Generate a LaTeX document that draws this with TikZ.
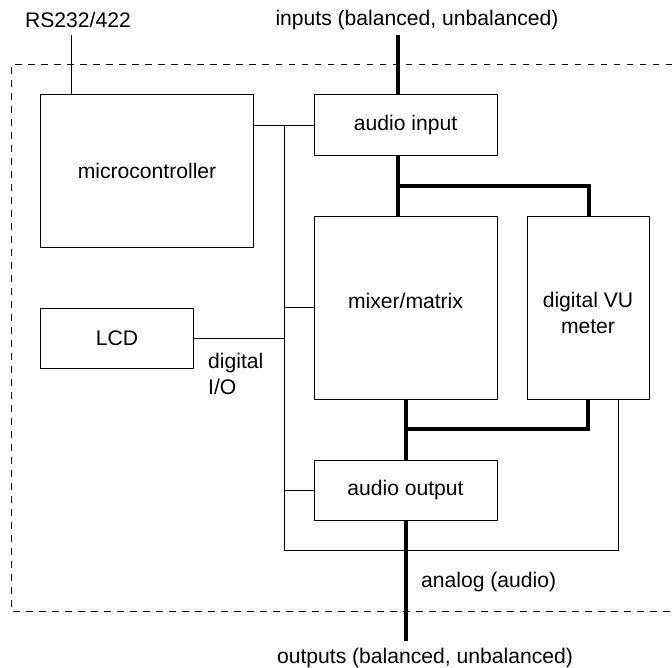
\documentclass[tikz,border=0pt]{standalone}
\usepackage{fontspec}
\setmainfont{Liberation Sans}
\begin{document}
\begin{tikzpicture}[x=1bp,y=-1bp,
  every node/.style={font=\fontsize{21.2}{26}\selectfont},
  blk/.style={draw,line width=1bp,inner sep=0pt,align=center},
  lbl/.style={inner sep=0pt},
  thin/.style={line width=1bp},
  bus/.style={line width=4bp},
  frame/.style={line width=1bp,dash pattern=on 6.5bp off 6.5bp}]
\useasboundingbox (0,0) rectangle (672,668);
% frame
\draw[frame] (672,65) -- (11,65) -- (11,611) -- (672,611);
% blocks
\node[blk,minimum width=212bp,minimum height=152bp] (mc) at (147,171) {microcontroller};
\node[blk,minimum width=183bp,minimum height=60bp] (ain) at (405.5,125) {audio input};
\node[blk,minimum width=183bp,minimum height=183bp] (mix) at (405.5,307.5) {};
\node[lbl] (mixt) at (405.5,301) {mixer/matrix};
\node[blk,minimum width=122bp,minimum height=183bp] (vu) at (588,307.5) {};
\node[lbl,align=center] (vut) at (588,313) {digital VU\\meter};
\node[blk,minimum width=152bp,minimum height=60bp] (lcd) at (117,338) {LCD};
\node[blk,minimum width=183bp,minimum height=60bp] (aout) at (405.5,490) {audio output};
% labels
\node[lbl] (rst) at (78,20) {RS232/422};
\node[lbl] (int) at (417,20) {inputs (balanced, unbalanced)};
\node[lbl] (outt) at (425,658) {outputs (balanced, unbalanced)};
\node[lbl,anchor=west] (ana) at (421,582) {analog (audio)};
\node[lbl,anchor=north west,align=left] (dio) at (208,353) {digital\\I/O};
% coordinates
\coordinate (rs) at (71,35);
\coordinate (bt) at (284,125);
\coordinate (vr) at (618,550);
\coordinate (in) at (398,35);
\coordinate (j1) at (398,186);
\coordinate (j2) at (589,186);
\coordinate (j3) at (406,429);
\coordinate (j4) at (588,429);
\coordinate (oe) at (406,641);
% thin connectors
\draw[thin] (rs) -- (rs |- mc.north);
\draw[thin] (bt -| mc.east) -- (ain.west);
\draw[thin] (bt) |- (vr) -- (vr |- vu.south);
\draw[thin] (bt |- mix.west) -- (mix.west);
\draw[thin] (lcd.east) -- (lcd.east -| bt);
\draw[thin] (bt |- aout.west) -- (aout.west);
% thick audio path
\draw[bus] (in) -- (in |- ain.north);
\draw[bus] (j1 |- ain.south) -- (j1 |- mix.north);
\draw[bus] (j1) -- (j2) -- (j2 |- vu.north);
\draw[bus] (j3 |- mix.south) -- (j3 |- aout.north);
\draw[bus] (j3) -- (j4) -- (j4 |- vu.south);
\draw[bus] (oe |- aout.south) -- (oe);
\end{tikzpicture}
\end{document}
